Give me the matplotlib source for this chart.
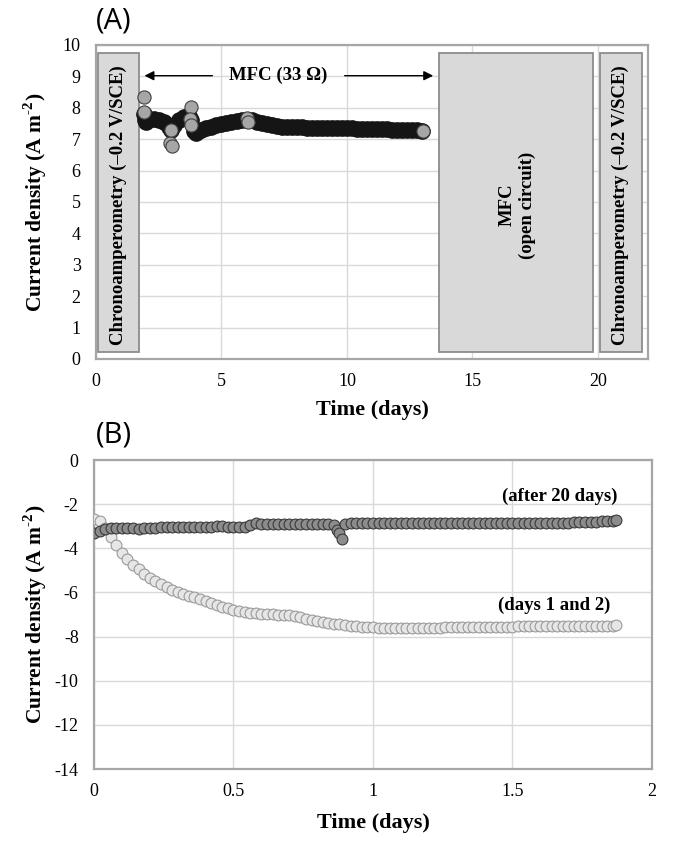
import numpy as np
import matplotlib.pyplot as plt
from matplotlib.patches import Rectangle

plt.rcParams['font.family'] = ['Liberation Serif', 'DejaVu Serif']
plt.rcParams['mathtext.fontset'] = 'custom'
plt.rcParams['mathtext.rm'] = 'Liberation Serif:bold'
plt.rcParams['mathtext.bf'] = 'Liberation Serif:bold'
plt.rcParams['axes.unicode_minus'] = False

# ---- panel A: current density while running as MFC (33 ohm)
time_a = [1.9, 1.95, 2.0, 2.1, 2.3, 2.5, 2.7, 2.9, 3.0, 3.1, 3.3, 3.5, 3.7, 3.8,
          3.9, 4.0, 4.2, 4.4, 4.6, 4.8, 5.0, 5.2, 5.4, 5.6, 5.8, 6.0, 6.2, 6.4,
          6.6, 6.8, 7.0, 7.2, 7.4, 7.6, 7.8, 8.0, 8.2, 8.4, 8.6, 8.8, 9.0, 9.2,
          9.4, 9.6, 9.8, 10.0, 10.2, 10.4, 10.6, 10.8, 11.0, 11.2, 11.4, 11.6,
          11.8, 12.0, 12.2, 12.4, 12.6, 12.8, 13.0]
current_a = [7.8, 7.6, 7.55, 7.65, 7.65, 7.6, 7.55, 7.4, 7.3, 7.45, 7.6, 7.7, 7.75, 7.6,
             7.25, 7.2, 7.3, 7.35, 7.4, 7.45, 7.48, 7.52, 7.55, 7.58, 7.6, 7.62, 7.6, 7.55,
             7.5, 7.47, 7.44, 7.42, 7.4, 7.4, 7.39, 7.38, 7.38, 7.37, 7.37, 7.36, 7.36, 7.35,
             7.35, 7.35, 7.34, 7.34, 7.34, 7.33, 7.33, 7.33, 7.32, 7.32, 7.32, 7.31,
             7.3, 7.28, 7.28, 7.29, 7.29, 7.28, 7.27]
# single readings that show up as grey circles
grey_t = [1.92, 1.9, 2.95, 3.02, 3.0, 3.8, 3.75, 3.8, 6.0, 6.05, 13.05]
grey_j = [8.33, 7.85, 6.88, 6.77, 7.3, 8.03, 7.65, 7.45, 7.68, 7.55, 7.27]

# operating phases (start day, end day, label)
phase_start = [0.08, 13.65, 20.1]
phase_end = [1.7, 19.8, 21.75]
phase_label = ['Chronoamperometry (–0.2 V/SCE)', 'MFC\n(open circuit)',
               'Chronoamperometry (–0.2 V/SCE)']
phase_text_x = [0.9, 16.8, 20.9]

# ---- panel B: chronoamperometry at -0.2 V/SCE
time_b = [round(0.02 * i, 2) for i in range(94)] + [1.87]
days12 = [-2.65, -2.75, -3.1, -3.5, -3.85, -4.2, -4.5, -4.75, -4.95, -5.15,
          -5.35, -5.5, -5.62, -5.75, -5.87, -5.97, -6.05, -6.15, -6.22, -6.3,
          -6.4, -6.48, -6.57, -6.65, -6.72, -6.78, -6.83, -6.88, -6.92, -6.95,
          -6.97, -6.98, -6.99, -7.0, -7.0, -7.02, -7.06, -7.12, -7.18, -7.25,
          -7.3, -7.34, -7.38, -7.42, -7.45, -7.48, -7.51, -7.53, -7.55, -7.57,
          -7.58, -7.59, -7.6, -7.6, -7.6, -7.6, -7.6, -7.6, -7.6, -7.6,
          -7.6, -7.59, -7.59, -7.58, -7.58, -7.57, -7.57, -7.56, -7.56, -7.56,
          -7.56, -7.55, -7.55, -7.55, -7.55, -7.55, -7.54, -7.54, -7.54, -7.54,
          -7.54, -7.54, -7.53, -7.53, -7.53, -7.53, -7.53, -7.52, -7.52, -7.52,
          -7.52, -7.51, -7.5, -7.5, -7.48]

time_c = ([round(0.02 * i, 2) for i in range(43)] + [0.86, 0.87, 0.88, 0.89]
          + [round(0.9 + 0.02 * i, 2) for i in range(49)] + [1.87])
after20 = [-3.3, -3.2, -3.12, -3.1, -3.08, -3.08, -3.1, -3.1, -3.12, -3.08,
           -3.06, -3.06, -3.05, -3.05, -3.04, -3.04, -3.04, -3.03, -3.03, -3.03,
           -3.02, -3.02, -3.01, -3.01, -3.02, -3.03, -3.04, -3.05, -2.95, -2.86,
           -2.88, -2.9, -2.9, -2.9, -2.9, -2.9, -2.9, -2.9, -2.9, -2.9,
           -2.9, -2.9, -2.88,
           -2.95, -3.15, -3.3, -3.58,
           -2.88, -2.85, -2.85, -2.85, -2.85, -2.85, -2.86, -2.86, -2.86, -2.86,
           -2.86, -2.87, -2.87, -2.87, -2.87, -2.87, -2.87, -2.87, -2.86, -2.86,
           -2.86, -2.86, -2.86, -2.85, -2.85, -2.85, -2.85, -2.85, -2.85, -2.85,
           -2.85, -2.84, -2.84, -2.84, -2.84, -2.84, -2.84, -2.83, -2.83, -2.83,
           -2.83, -2.82, -2.82, -2.81, -2.8, -2.8, -2.78, -2.76, -2.74,
           -2.72]

spine_col = '#a6a6a6'
grid_col = '#d9d9d9'
ylab = 'Current density (A m$^{\\text{-2}}$)'


def style_axes(ax):
    for s in ax.spines.values():
        s.set_color(spine_col)
        s.set_linewidth(1.6)
    ax.grid(True, color=grid_col, lw=1.0)
    ax.set_axisbelow(True)
    ax.tick_params(length=0, labelsize=13)


fig = plt.figure(figsize=(6.77, 8.46), dpi=100)

# ---------------- panel A
axA = fig.add_axes([0.1418, 0.5757, 0.8154, 0.3712])
style_axes(axA)
axA.tick_params(axis='y', pad=11)
axA.tick_params(axis='x', pad=10)
axA.set_xlim(0, 22)
axA.set_ylim(0, 10)
axA.set_xticks([0, 5, 10, 15, 20])
axA.set_yticks(range(0, 11))

for x0, x1, lab, tx in zip(phase_start, phase_end, phase_label, phase_text_x):
    axA.add_patch(Rectangle((x0, 0.22), x1 - x0, 9.53, facecolor='#d9d9d9',
                            edgecolor='#8c8c8c', lw=1.3, zorder=1.5))
    axA.text(tx, 4.9, lab, rotation=90, ha='center', va='center',
             fontsize=13.5, fontweight='bold', multialignment='center', zorder=2)

axA.plot(time_a, current_a, 'o', ms=11, mfc='#151515', mec='#151515', zorder=3)
axA.plot(grey_t, grey_j, 'o', ms=9.5, mfc='#a6a6a6', mec='#404040', mew=0.8, zorder=4)

axA.annotate('', xy=(1.82, 9.02), xytext=(4.75, 9.02),
             arrowprops=dict(arrowstyle='-|>', color='black', lw=1, mutation_scale=14))
axA.annotate('', xy=(13.55, 9.02), xytext=(9.8, 9.02),
             arrowprops=dict(arrowstyle='-|>', color='black', lw=1, mutation_scale=14))
axA.text(7.27, 9.02, 'MFC (33 Ω)', ha='center', va='center', fontsize=13.5,
         fontweight='bold')

axA.set_xlabel('Time (days)', fontsize=16, fontweight='bold')
axA.set_ylabel(ylab, fontsize=15.5, fontweight='bold')
axA.xaxis.set_label_coords(0.5, -0.162)
axA.xaxis.label.set_va('center')
axA.yaxis.set_label_coords(-0.11, 0.5)
axA.yaxis.label.set_va('center')

# ---------------- panel B
axB = fig.add_axes([0.1388, 0.0910, 0.8242, 0.3652])
style_axes(axB)
axB.tick_params(axis='y', pad=11)
axB.tick_params(axis='x', pad=10)
axB.set_xlim(0, 2)
axB.set_ylim(-14, 0)
axB.set_xticks([0, 0.5, 1, 1.5, 2])
axB.set_xticklabels(['0', '0.5', '1', '1.5', '2'])
axB.set_yticks(range(-14, 1, 2))

axB.plot(time_b, days12, 'o', ms=7.8, mfc='#e6e6e6', mec='#9a9a9a', mew=0.8, zorder=3)
axB.plot(time_c, after20, 'o', ms=7.8, mfc='#8c8c8c', mec='#3a3a3a', mew=0.8, zorder=3)

axB.text(1.67, -1.63, '(after 20 days)', ha='center', va='center', fontsize=13.5,
         fontweight='bold')
axB.text(1.65, -6.57, '(days 1 and 2)', ha='center', va='center', fontsize=13.5,
         fontweight='bold')

axB.set_xlabel('Time (days)', fontsize=16, fontweight='bold')
axB.set_ylabel(ylab, fontsize=15.5, fontweight='bold')
axB.xaxis.set_label_coords(0.5, -0.175)
axB.xaxis.label.set_va('center')
axB.yaxis.set_label_coords(-0.106, 0.5)
axB.yaxis.label.set_va('center')

fig.text(96 / 677, 1 - 21 / 846, '(A)', fontsize=21, family=['Open Sans', 'DejaVu Sans'],
         ha='left', va='center')
fig.text(96 / 677, 1 - 435 / 846, '(B)', fontsize=21, family=['Open Sans', 'DejaVu Sans'],
         ha='left', va='center')

fig.savefig('out.png', dpi=100)
